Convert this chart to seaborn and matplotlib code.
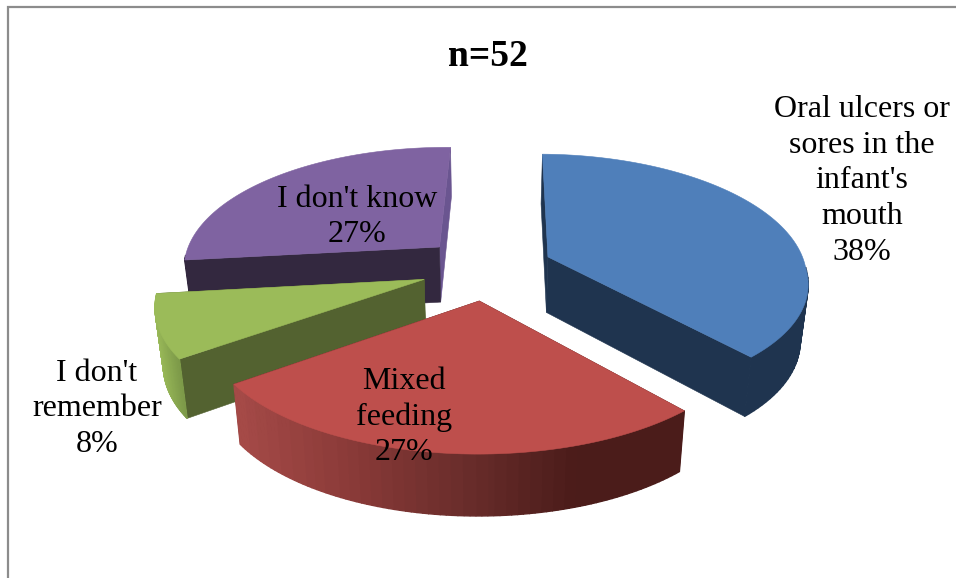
import numpy as np
import matplotlib
matplotlib.use("Agg")
import matplotlib.pyplot as plt
from matplotlib.patches import Polygon
import seaborn as sns

title = "n=52"
categories = ["Oral ulcers or\nsores in the\ninfant's\nmouth", "Mixed\nfeeding", "I don't\nremember", "I don't know"]
shares = [38, 27, 8, 27]
label_xy = [(862, 181), (404, 417), (97, 409), (357, 217)]

top_colors = ["#4F7FBA", "#BE4F4C", "#9BBB59", "#7F63A1"]
start_wall_colors = ["#1F344F", "#4B1C1A", "#536230", "#33283F"]
end_wall_colors = ["#1F344F", "#4B1C1A", "#536230", "#6A5590"]
rim_ramps = [["#1F344F", "#1F344F"],
             ["#A54A47", "#8A3A38", "#6A2D2B", "#4B1C1A", "#4B1C1A"],
             ["#9BBB59", "#7D9A49"],
             ["#33283F", "#33283F"]]

sns.set_theme(style="white")
plt.rcParams["font.family"] = ["Liberation Serif", "DejaVu Serif"]

CENTER = (487.0, 268.0)
RADIUS = 258.0
TILT = 0.484
PERSPECTIVE = 0.15
PERSPECTIVE_NEAR_X = 0.19
EXPLODE = 66.0
DEPTH = 56.0
FLOOR_SHRINK = 0.975
START_DEG = 1.0


def project(u, v, floor=False):
    """Project pie-plane coordinates (v towards the viewer) to canvas pixels."""
    u, v = np.asarray(u), np.asarray(v)
    scale = 1 + PERSPECTIVE * v / RADIUS
    scale_x = 1 + np.where(v > 0, PERSPECTIVE_NEAR_X, PERSPECTIVE) * v / RADIUS
    shrink = FLOOR_SHRINK if floor else 1.0
    drop = DEPTH if floor else 0.0
    return np.column_stack([CENTER[0] + u * scale_x * shrink,
                            CENTER[1] + (TILT * v * shrink + drop) * scale])


fig = plt.figure(figsize=(9.56, 5.78), dpi=100)
ax = fig.add_axes([0, 0, 1, 1])
ax.set_xlim(0, 956)
ax.set_ylim(578, 0)
ax.axis("off")

ax.plot([8, 8, 956], [578, 7, 7], color="#8C8C8C", lw=1.6, solid_joinstyle="miter")

edges = START_DEG + np.concatenate([[0], np.cumsum(shares)]) * 3.6
slices = []
for i, share in enumerate(shares):
    a0, a1 = np.radians(edges[i]), np.radians(edges[i + 1])
    mid = (a0 + a1) / 2
    ox, ov = EXPLODE * np.sin(mid), -EXPLODE * np.cos(mid)
    th = np.linspace(a0, a1, 90)
    u = ox + RADIUS * np.sin(th)
    v = ov - RADIUS * np.cos(th)
    slices.append(dict(i=i, ox=ox, ov=ov, u=u, v=v, th=th))


def quad(xa, va, xb, vb, color, lw=0.4):
    pts = np.vstack([project([xa, xb], [va, vb]), project([xb, xa], [vb, va], floor=True)])
    ax.add_patch(Polygon(pts, closed=True, fc=color, ec=color, lw=lw))


# Painter's order: the rear slices first, the front slice last.
for s in (slices[3], slices[0], slices[2], slices[1]):
    i, ox, ov, u, v, th = s["i"], s["ox"], s["ov"], s["u"], s["v"], s["th"]
    quad(ox, ov, u[-1], v[-1], end_wall_colors[i])
    quad(ox, ov, u[0], v[0], start_wall_colors[i])
    x_span = project(u, v)[:, 0]
    ramp = sns.blend_palette(rim_ramps[i], 40)
    lo, hi = x_span.min(), x_span.max()
    # Only the part of the rim that faces the viewer is painted.
    for k in np.argsort(v):
        if k == len(u) - 1 or -np.cos(th[k]) < 0.08:
            continue
        t = (x_span[k] - lo) / max(hi - lo, 1e-6)
        quad(u[k], v[k], u[k + 1], v[k + 1], ramp[int(t * 39)], lw=1.0)
    top = project(np.r_[ox, u], np.r_[ov, v])
    ax.add_patch(Polygon(top, closed=True, fc=top_colors[i], ec=top_colors[i], lw=0.4))

for name, share, (x, y) in zip(categories, shares, label_xy):
    ax.text(x, y, f"{name}\n{share}%", ha="center", va="center", fontsize=23,
            color="black", linespacing=1.3)

ax.text(488, 56, title, ha="center", va="center", fontsize=27, fontweight="bold", color="black")

fig.savefig("out.png", dpi=100)
